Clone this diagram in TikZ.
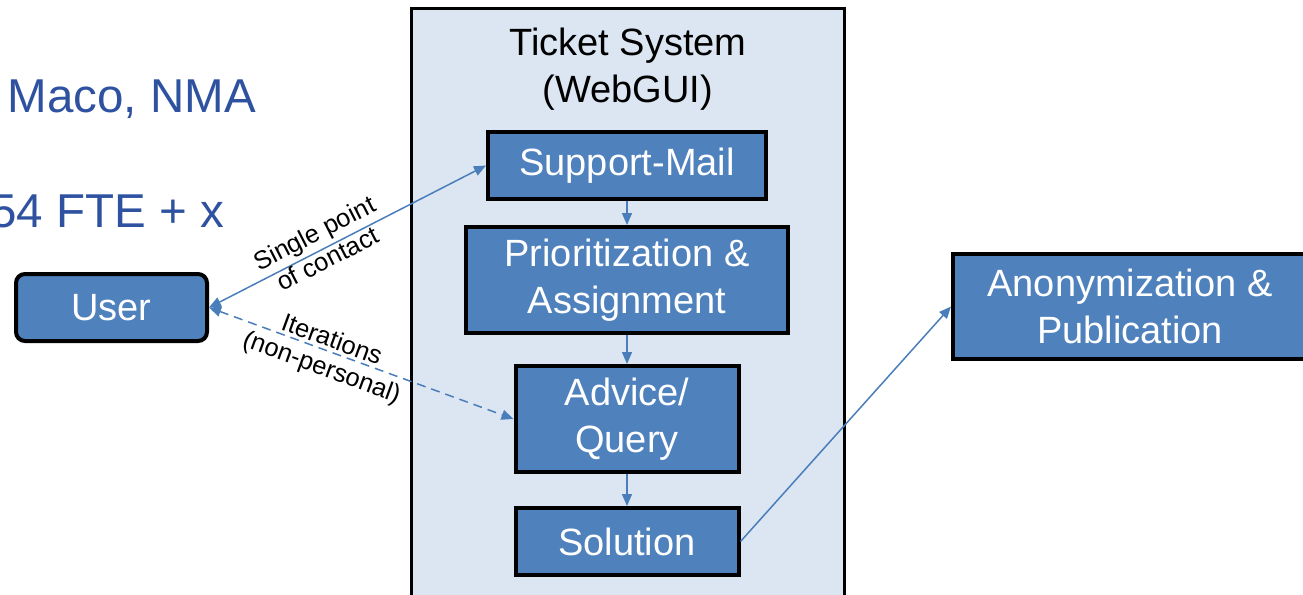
\documentclass[tikz,border=0pt]{standalone}
\usepackage{fontspec}
\setmainfont{Liberation Sans}
\usetikzlibrary{arrows.meta}
\definecolor{boxblue}{RGB}{79,129,189}
\definecolor{tsbg}{RGB}{220,230,242}
\definecolor{arrblue}{RGB}{74,126,187}
\definecolor{txtblue}{RGB}{47,82,160}
\tikzset{
  procbox/.style={draw=black, line width=4pt, fill=boxblue, text=white, inner sep=0pt,
    align=center, font=\fontsize{38}{47}\selectfont},
  conn/.style={draw=arrblue, line width=1.5pt, -{Triangle[length=12pt,width=10pt]}},
  biconn/.style={draw=arrblue, line width=1.5pt, {Triangle[length=12pt,width=10pt]}-{Triangle[length=12pt,width=10pt]}},
  lbl/.style={font=\fontsize{25.5}{29}\selectfont, align=center, inner sep=0pt, sloped},
  bigtxt/.style={text=txtblue, font=\fontsize{47.5}{52}\selectfont, inner sep=0pt}
}
\begin{document}
\begin{tikzpicture}[x=1pt,y=-1pt]
\useasboundingbox (0,0) rectangle (1303,594);
% Ticket system container
\draw[line width=3pt, fill=tsbg] (411,9) rectangle (844,640);
\node[align=center, font=\fontsize{38}{47}\selectfont, inner sep=0pt] (title) at (628,69) {Ticket System\\(WebGUI)};
% blue side texts
\node[bigtxt, anchor=base east] (maco) at (256,112) {Maco, NMA};
\node[bigtxt, anchor=base east] (fte) at (224,227) {54 FTE + x};
% boxes
\node[procbox, minimum width=278pt, minimum height=67pt] (mail) at (627,165.5) {Support-Mail};
\node[procbox, minimum width=322pt, minimum height=106pt] (prio) at (627,280) {Prioritization \&\\Assignment};
\node[procbox, minimum width=223pt, minimum height=106pt] (adv) at (627,419) {Advice/\\Query};
\node[procbox, minimum width=223pt, minimum height=67pt] (sol) at (627,541.5) {Solution};
\node[procbox, rounded corners=9pt, minimum width=191pt, minimum height=67pt] (user) at (111.5,307.5) {User};
\node[procbox, minimum width=354pt, minimum height=105pt] (anon) at (1130,306.5) {Anonymization \&\\Publication};
% connectors
\draw[conn] (mail.south) -- (prio.north);
\draw[conn] (prio.south) -- (adv.north);
\draw[conn] (adv.south) -- (sol.north);
\draw[biconn] (user.east) -- node[lbl, pos=0.41, yshift=4pt] {Single point\\of contact} (mail.west);
\draw[biconn, dash pattern=on 9pt off 6pt] (user.east) -- node[lbl, pos=0.39, yshift=-4pt] {Iterations\\(non-personal)} (adv.west);
\draw[conn] (sol.east) -- (anon.west);
\end{tikzpicture}
\end{document}
